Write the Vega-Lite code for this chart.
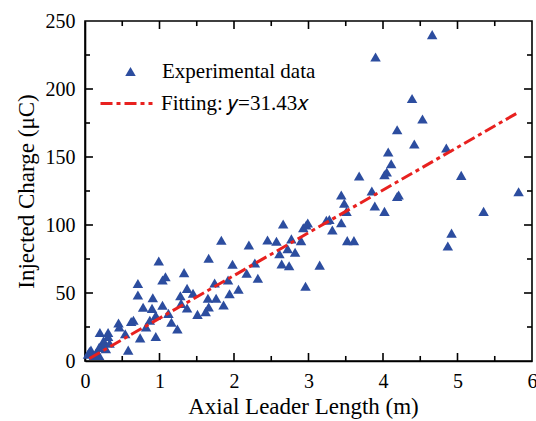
{
  "$schema": "https://vega.github.io/schema/vega-lite/v6.json",
  "width": 447,
  "height": 340,
  "autosize": {"type": "none"},
  "padding": {"left": 85, "top": 21, "right": 4, "bottom": 60},
  "background": "white",
  "config": {
    "view": {"stroke": "black", "strokeWidth": 1.6},
    "font": "Liberation Serif",
    "rule": {"color": "black", "strokeWidth": 1.6},
    "axis": {
      "grid": false,
      "ticks": false,
      "domainColor": "black",
      "domainWidth": 1.6,
      "labelFont": "Liberation Serif",
      "labelFontSize": 20,
      "labelColor": "black",
      "titleFont": "Liberation Serif",
      "titleFontSize": 23,
      "titleFontWeight": "normal",
      "titleColor": "black"
    },
    "legend": {
      "labelFont": "Liberation Serif",
      "labelFontSize": 21,
      "labelColor": "black"
    }
  },
  "datasets": {
    "points": [
      {"L":0.04,"Q":5},{"L":0.08,"Q":8},{"L":0.12,"Q":4},{"L":0.15,"Q":6},{"L":0.19,"Q":4},{"L":0.06,"Q":7},
      {"L":0.20,"Q":21},{"L":0.31,"Q":21},{"L":0.31,"Q":18},{"L":0.25,"Q":15},{"L":0.33,"Q":13},{"L":0.24,"Q":12},
      {"L":0.19,"Q":10},{"L":0.28,"Q":9},{"L":0.45,"Q":28},{"L":0.46,"Q":25},{"L":0.54,"Q":20},{"L":0.58,"Q":8},
      {"L":0.62,"Q":29},{"L":0.65,"Q":30},{"L":0.74,"Q":17},{"L":0.95,"Q":18},{"L":0.82,"Q":25},{"L":0.87,"Q":30},
      {"L":0.71,"Q":57},{"L":0.71,"Q":48.5},{"L":0.91,"Q":46.5},{"L":0.78,"Q":39.5},{"L":0.90,"Q":38.7},{"L":1.04,"Q":41},
      {"L":0.95,"Q":33.5},{"L":0.99,"Q":73.5},{"L":1.08,"Q":62},{"L":1.04,"Q":59.5},{"L":1.33,"Q":65},{"L":1.37,"Q":53.4},
      {"L":1.28,"Q":48},{"L":1.45,"Q":49.8},{"L":1.29,"Q":42.4},{"L":1.37,"Q":39},{"L":1.12,"Q":35},{"L":1.16,"Q":28.5},
      {"L":1.24,"Q":23.5},{"L":1.74,"Q":57.3},{"L":1.65,"Q":46.1},{"L":1.76,"Q":46.1},{"L":1.94,"Q":49.5},{"L":2.06,"Q":52.7},
      {"L":1.86,"Q":41.2},{"L":1.51,"Q":34.3},{"L":1.62,"Q":36.3},{"L":1.66,"Q":39.7},{"L":1.66,"Q":75.5},{"L":1.83,"Q":88.8},
      {"L":1.98,"Q":71.2},{"L":1.92,"Q":59.6},{"L":2.20,"Q":85.3},{"L":2.28,"Q":72},{"L":2.17,"Q":64.5},{"L":2.32,"Q":60.8},
      {"L":2.45,"Q":89},{"L":2.57,"Q":88},{"L":2.77,"Q":89.8},{"L":2.90,"Q":88.5},{"L":2.66,"Q":100.7},{"L":2.93,"Q":98},
      {"L":2.61,"Q":78.8},{"L":2.72,"Q":82.5},{"L":2.82,"Q":80},{"L":2.64,"Q":71.3},{"L":2.74,"Q":70},{"L":2.96,"Q":55},
      {"L":3.15,"Q":70.5},{"L":2.97,"Q":100},{"L":2.99,"Q":101.5},{"L":3.24,"Q":103.5},{"L":3.28,"Q":104},{"L":3.32,"Q":96.3},
      {"L":3.44,"Q":101.7},{"L":3.52,"Q":88.5},{"L":3.61,"Q":88.5},{"L":3.44,"Q":122},{"L":3.48,"Q":116},{"L":3.51,"Q":110},
      {"L":3.68,"Q":136},{"L":3.85,"Q":125},{"L":3.89,"Q":114},{"L":4.02,"Q":110},{"L":4.19,"Q":121},{"L":4.21,"Q":122},
      {"L":4.02,"Q":137},{"L":4.05,"Q":139},{"L":4.07,"Q":153.7},{"L":4.11,"Q":145},{"L":4.19,"Q":170},{"L":4.42,"Q":159.5},
      {"L":4.53,"Q":178},{"L":4.39,"Q":193},{"L":3.90,"Q":223.5},{"L":4.66,"Q":240},{"L":4.85,"Q":156.6},{"L":5.05,"Q":136.5},
      {"L":5.82,"Q":124.5},{"L":5.35,"Q":110},{"L":4.92,"Q":94},{"L":4.87,"Q":84.6}
    ],
    "fit": [{"L": 0.06, "Q": 1.89}, {"L": 5.82, "Q": 182.9}],
    "xmajor": [{"v":1},{"v":2},{"v":3},{"v":4},{"v":5}],
    "xminor": [{"v":0.5},{"v":1.5},{"v":2.5},{"v":3.5},{"v":4.5},{"v":5.5}],
    "ymajor": [{"v":50},{"v":100},{"v":150},{"v":200}],
    "yminor": [{"v":25},{"v":75},{"v":125},{"v":175},{"v":225}]
  },
  "layer": [
    {
      "data": {"name": "xmajor"},
      "mark": {"type": "rule"},
      "encoding": {"x": {"field": "v", "type": "quantitative"}, "y": {"datum": 0}, "y2": {"datum": 5.9}}
    },
    {
      "data": {"name": "xminor"},
      "mark": {"type": "rule"},
      "encoding": {"x": {"field": "v", "type": "quantitative"}, "y": {"datum": 0}, "y2": {"datum": 3.7}}
    },
    {
      "data": {"name": "xmajor"},
      "mark": {"type": "rule"},
      "encoding": {"x": {"field": "v", "type": "quantitative"}, "y": {"datum": 250}, "y2": {"datum": 244.1}}
    },
    {
      "data": {"name": "xminor"},
      "mark": {"type": "rule"},
      "encoding": {"x": {"field": "v", "type": "quantitative"}, "y": {"datum": 250}, "y2": {"datum": 246.3}}
    },
    {
      "data": {"name": "ymajor"},
      "mark": {"type": "rule"},
      "encoding": {"y": {"field": "v", "type": "quantitative"}, "x": {"datum": 0}, "x2": {"datum": 0.107}}
    },
    {
      "data": {"name": "yminor"},
      "mark": {"type": "rule"},
      "encoding": {"y": {"field": "v", "type": "quantitative"}, "x": {"datum": 0}, "x2": {"datum": 0.067}}
    },
    {
      "data": {"name": "ymajor"},
      "mark": {"type": "rule"},
      "encoding": {"y": {"field": "v", "type": "quantitative"}, "x": {"datum": 6}, "x2": {"datum": 5.893}}
    },
    {
      "data": {"name": "yminor"},
      "mark": {"type": "rule"},
      "encoding": {"y": {"field": "v", "type": "quantitative"}, "x": {"datum": 6}, "x2": {"datum": 5.933}}
    },
    {
      "data": {"name": "points"},
      "mark": {"type": "point", "filled": true, "opacity": 1, "color": "#2c4d9f", "size": 110},
      "encoding": {
        "x": {
          "field": "L", "type": "quantitative",
          "scale": {"domain": [0, 6], "nice": false, "zero": false},
          "axis": {
            "title": "Axial Leader Length (m)",
            "values": [0,1,2,3,4,5,6],
            "format": "d",
            "labelFlush": false,
            "labelPadding": 10,
            "titlePadding": 4,
            "titleX": 218
          }
        },
        "y": {
          "field": "Q", "type": "quantitative",
          "scale": {"domain": [0, 250], "nice": false},
          "axis": {
            "title": "Injected Charge (μC)",
            "values": [0,50,100,150,200,250],
            "format": "d",
            "labelPadding": 10,
            "titlePadding": 7
          }
        },
        "shape": {
          "datum": "Experimental data",
          "type": "nominal",
          "scale": {"range": ["triangle-up"]},
          "legend": {
            "title": null,
            "orient": "none",
            "legendX": 35,
            "legendY": 40,
            "symbolSize": 110,
            "symbolFillColor": "#2c4d9f",
            "symbolStrokeWidth": 0,
            "symbolOpacity": 1,
            "labelOffset": 21
          }
        }
      }
    },
    {
      "data": {"name": "fit"},
      "mark": {"type": "line", "color": "#e8211f", "strokeWidth": 3},
      "encoding": {
        "x": {"field": "L", "type": "quantitative"},
        "y": {"field": "Q", "type": "quantitative"},
        "strokeDash": {
          "datum": "Fitting: 𝑦=31.43𝑥",
          "type": "nominal",
          "scale": {"range": [[12, 4, 4, 4]]},
          "legend": {
            "title": null,
            "orient": "none",
            "legendX": 14,
            "legendY": 55,
            "symbolType": "stroke",
            "symbolSize": 2704,
            "symbolStrokeColor": "#e8211f",
            "symbolStrokeWidth": 3,
            "labelOffset": 7
          }
        }
      }
    }
  ],
  "resolve": {"scale": {"shape": "independent", "strokeDash": "independent"}}
}
